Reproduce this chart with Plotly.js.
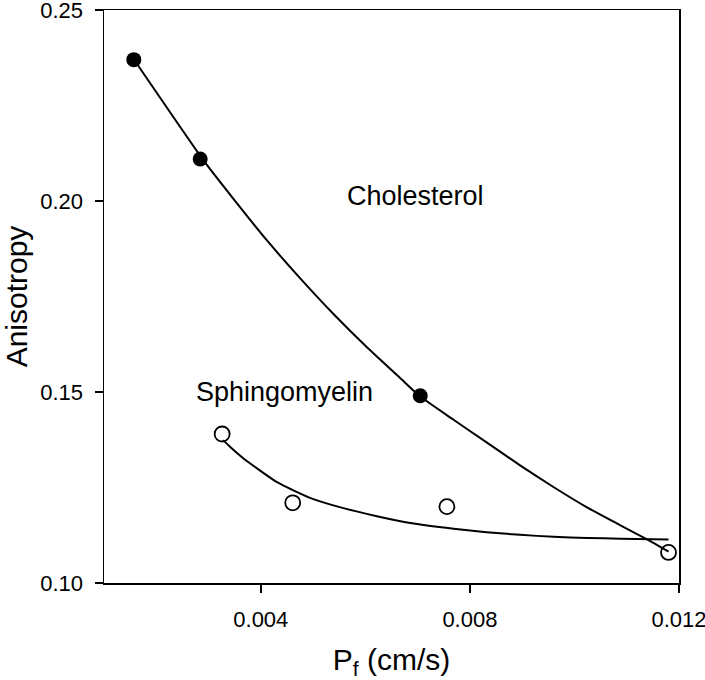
<!DOCTYPE html>
<html>
<head>
<meta charset="utf-8">
<script src="https://cdn.plot.ly/plotly-3.0.1.min.js"></script>
<style>html,body{margin:0;padding:0;background:#fff;}#chart{width:705px;height:680px;}</style>
</head>
<body>
<div id="chart"></div>
<script>
// Measured points
const cholX = [0.00157, 0.00284, 0.00705];
const cholY = [0.237, 0.211, 0.149];
const smX = [0.00326, 0.00461, 0.00756, 0.0118];
const smY = [0.139, 0.121, 0.120, 0.108];

// Fitted curves
const cholFitX = [0.00157, 0.0029, 0.00348, 0.00411, 0.00475, 0.00539, 0.00603, 0.00667, 0.00705, 0.00768, 0.00832, 0.00896, 0.00959, 0.01024, 0.01088, 0.01139, 0.0118];
const cholFitY = [0.2371, 0.2107, 0.2005, 0.1898, 0.1798, 0.1704, 0.1617, 0.1536, 0.1488, 0.1428, 0.1368, 0.1308, 0.1252, 0.1198, 0.1151, 0.1114, 0.1082];
const smFitX = [0.00328, 0.0034, 0.00367, 0.00431, 0.00494, 0.00558, 0.00622, 0.00686, 0.00769, 0.00832, 0.00896, 0.0096, 0.01024, 0.01088, 0.0118];
const smFitY = [0.1374, 0.1358, 0.1326, 0.1264, 0.1223, 0.1196, 0.1175, 0.1157, 0.1142, 0.1133, 0.1126, 0.1121, 0.1118, 0.1116, 0.1114];

// Axis ticks
const xTickVals = [0.004, 0.008, 0.012];
const xTickText = ["0.004", "0.008", "0.012"];
const yTickVals = [0.10, 0.15, 0.20, 0.25];
const yTickText = ["0.10", "0.15", "0.20", "0.25"];

// Labels
const labelText = ["Cholesterol", "Sphingomyelin"];
const labelX = [0.00695, 0.00446];
const labelY = [0.2012, 0.1500];

const FONT = "Liberation Sans, Arial, Helvetica, sans-serif";

const traces = [
  {x: cholFitX, y: cholFitY, mode: "lines", line: {color: "#000", width: 2, shape: "spline", smoothing: 0.5}, hoverinfo: "skip"},
  {x: smFitX, y: smFitY, mode: "lines", line: {color: "#000", width: 2, shape: "spline", smoothing: 0.5}, hoverinfo: "skip"},
  {x: cholX, y: cholY, mode: "markers", marker: {symbol: "circle", size: 15, color: "#000"}, cliponaxis: false},
  {x: smX, y: smY, mode: "markers", marker: {symbol: "circle-open", size: 15, color: "#000", line: {width: 1.8, color: "#000"}}, cliponaxis: false}
];

const layout = {
  width: 705, height: 680,
  margin: {l: 104, r: 26, t: 10, b: 97},
  paper_bgcolor: "#fff", plot_bgcolor: "#fff",
  showlegend: false,
  font: {family: FONT, color: "#000"},
  xaxis: {
    range: [0.0009999, 0.0120001], tickmode: "array", tickvals: xTickVals, ticktext: xTickText,
    showgrid: false, zeroline: false, showline: true, linecolor: "#000", linewidth: 1.5, mirror: true,
    ticks: "outside", ticklen: 8, tickwidth: 1.5, tickcolor: "#000", ticklabelstandoff: 8,
    ticklabeloverflow: "allow",
    tickfont: {family: FONT, size: 22, color: "#000"},
    title: {text: "P<sub>f</sub> (cm/s)", font: {family: FONT, size: 30, color: "#000"}, standoff: 22},
    automargin: false
  },
  yaxis: {
    range: [0.0999999, 0.2500001], tickmode: "array", tickvals: yTickVals, ticktext: yTickText,
    showgrid: false, zeroline: false, showline: true, linecolor: "#000", linewidth: 1.5, mirror: true,
    ticks: "outside", ticklen: 8, tickwidth: 1.5, tickcolor: "#000", ticklabelstandoff: 7,
    ticklabeloverflow: "allow",
    tickfont: {family: FONT, size: 22, color: "#000"},
    title: {text: "Anisotropy", font: {family: FONT, size: 30, color: "#000"}, standoff: 14},
    automargin: false
  },
  annotations: labelText.map((t, i) => ({
    x: labelX[i], y: labelY[i], xref: "x", yref: "y", text: t, showarrow: false,
    xanchor: "center", yanchor: "middle", font: {family: FONT, size: 27, color: "#000"}
  }))
};

Plotly.newPlot("chart", traces, layout, {displayModeBar: false, staticPlot: true});
</script>
</body>
</html>
